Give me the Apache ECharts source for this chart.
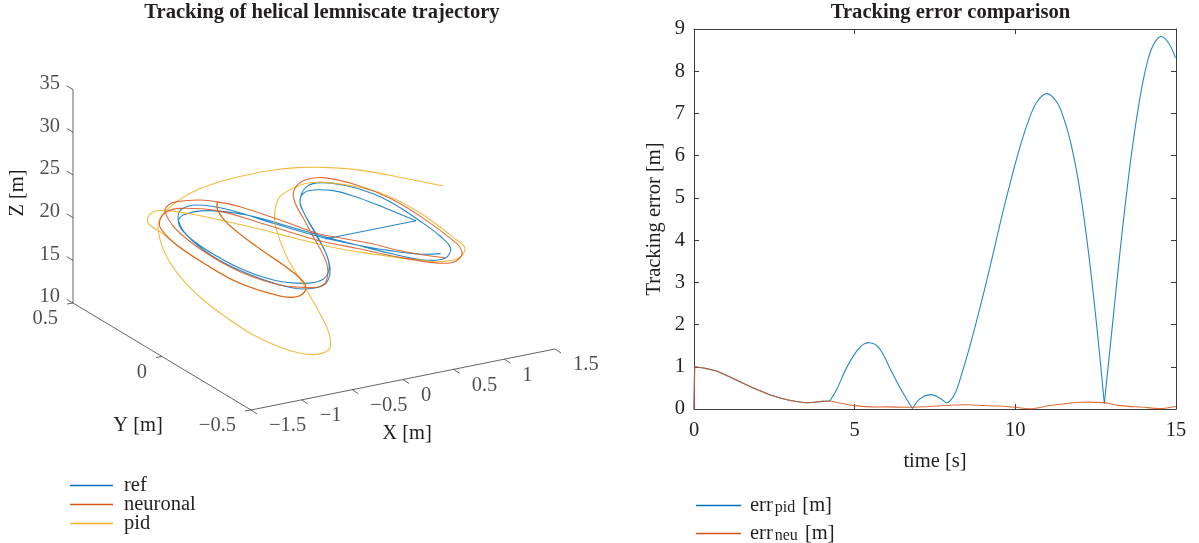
<!DOCTYPE html>
<html><head><meta charset="utf-8">
<style>html,body{margin:0;padding:0;background:#fff}#c{width:1199px;height:543px}</style>
<script src="https://cdn.jsdelivr.net/npm/echarts@6/dist/echarts.min.js"></script>
</head><body><div id="c"></div>
<script>
// ---- data ----
// left panel: trajectories as seen in the drawing plane of the 3D view
const refLead = [[585,237],[858,182]];
const refPath = [[858,182],[780,150],[730,130],[670,108],[610,92],[550,90],[520,100],[510,125],[525,165],[560,225],[590,285],[597,330],[575,360],[520,370],[430,360],[330,325],[230,270],[165,220],[145,185],[160,165],[230,152],[350,165],[480,200],[590,232],[680,255],[780,280],[880,300],[945,295],[962,265],[930,228],[880,190],[780,125],[680,85],[580,68],[530,80],[510,125],[525,165],[555,220],[590,285],[600,340],[580,375],[520,387],[450,375],[350,340],[250,290],[170,225],[145,180],[152,150],[200,135],[300,150],[430,190],[560,228],[680,255],[780,272],[860,282],[932,281]];
const commonStart = [[262,125],[263,150],[292,190],[380,260],[460,315],[520,365],[527,390],[500,410],[450,408],[330,370],[230,315],[140,255]];
const neuronalRest = [[92,205],[90,180],[110,155],[150,145],[260,152],[380,185],[560,240],[680,265],[800,290],[900,307],[965,308],[993,290],[995,272],[980,250],[880,175],[780,115],[680,75],[580,53],[525,60],[495,85],[492,120],[520,175],[550,230],[590,310],[590,360],[570,380],[520,382],[450,375],[330,335],[230,280],[140,210],[105,155],[115,135],[140,125],[210,120],[270,127],[330,140],[450,180],[560,220],[620,232],[720,250],[800,270],[880,285],[945,293]];
const pidRest = [[100,222],[60,195],[52,178],[70,155],[110,152],[200,165],[300,187],[400,210],[500,236],[600,260],[700,278],[800,292],[870,300],[930,305],[985,295],[1005,265],[980,240],[880,165],[780,110],[680,80],[580,67],[530,70],[490,85],[450,110],[435,150],[437,200],[470,290],[530,390],[590,500],[602,545],[595,570],[560,583],[510,580],[450,562],[370,525],[300,480],[220,420],[150,350],[105,280],[85,215],[88,180],[110,150],[150,118],[200,90],[270,65],[350,45],[430,30],[500,23],[580,22],[650,26],[720,35],[800,50],[870,64],[940,78]];
const xTicks3d = [-1.5,-1,-0.5,0,0.5,1,1.5];
const yTicks3d = [0.5,0,-0.5];
const zTicks3d = [10,15,20,25,30,35];
// right panel
const errRise = [[0,0],[0.02,1]];
const errCommon = [[0.02,1],[0.3,0.97],[0.7,0.9],[1,0.8],[1.5,0.62],[2,0.45],[2.5,0.3],[3,0.2],[3.5,0.15],[4,0.18],[4.23,0.19]];
const pidArc1 = [[4.23,0.19],[4.44,0.46],[4.75,0.98],[5.06,1.37],[5.27,1.53],[5.48,1.57],[5.69,1.5],[5.89,1.29],[6.15,0.88],[6.46,0.44],[6.8,0.01]];
const pidArc2 = [[6.8,0.01],[7.03,0.24],[7.35,0.34],[7.6,0.28],[7.86,0.14]];
const pidArc3 = [[7.86,0.14],[7.97,0.19],[8.13,0.38],[8.28,0.7],[8.59,1.5],[8.9,2.4],[9.16,3.2],[9.37,3.88],[9.63,4.72],[9.89,5.5],[10.15,6.22],[10.41,6.83],[10.67,7.27],[10.98,7.47],[11.29,7.27],[11.5,6.9],[11.7,6.38],[11.89,5.7],[12.07,4.88],[12.24,3.93],[12.38,3.05],[12.58,1.62],[12.77,0.13]];
const pidArc4 = [[12.77,0.13],[13.05,2.2],[13.26,3.74],[13.41,4.77],[13.62,6.07],[13.83,7.15],[14.04,8.0],[14.25,8.55],[14.52,8.82],[14.76,8.68],[14.98,8.32]];
const neuTail = [[4.23,0.19],[4.5,0.15],[5,0.08],[5.5,0.05],[6,0.05],[6.8,0.04],[7.3,0.06],[7.97,0.09],[8.5,0.1],[9,0.083],[9.5,0.07],[10,0.04],[10.46,0.005],[11.08,0.083],[11.5,0.12],[12.01,0.16],[12.75,0.15],[13.26,0.08],[14,0.04],[14.5,0.01],[15,0.06]];

// ---- style ----
const BLUE='#0072BD', RED='#D95319', YEL='#EDB120', INK='#231f20', AX='#3c3c3c';
const FONT='"Liberation Serif", serif';

// ---- 3D axis frame expressed in the same drawing-plane units ----
const corner=[363,750], xDir=[304,-61], yDir=[-534,-321], zDir=[0,-25.62];
const proj=(X,Y,Z)=>[corner[0]+(X+1.5)*xDir[0]+(Y+0.5)*yDir[0]+(Z-10)*zDir[0],
                     corner[1]+(X+1.5)*xDir[1]+(Y+0.5)*yDir[1]+(Z-10)*zDir[1]];
const xPts=xTicks3d.map(v=>proj(v,-0.5,10));
const yPts=yTicks3d.map(v=>proj(-1.5,v,10));
const zPts=zTicks3d.map(v=>proj(-1.5,0.5,v));
function seg(list){const o=[];list.forEach(s=>{o.push(s[0],s[1],[null,null]);});return o;}
const axisSegs=[[xPts[0],xPts[6]],[yPts[0],yPts[2]],[zPts[0],zPts[5]]];
const tickSegs=[];
xPts.forEach(p=>tickSegs.push([p,[p[0]+18,p[1]+12]]));
yPts.forEach(p=>tickSegs.push([p,[p[0]-18,p[1]+3]]));
zPts.forEach(p=>tickSegs.push([p,[p[0]-19,p[1]-11]]));

function frame(name,data){return {type:'line',name,xAxisIndex:0,yAxisIndex:0,data:seg(data),showSymbol:false,silent:true,
  connectNulls:false,clip:false,lineStyle:{color:AX,width:0.8}};}
function tickLabels(pts,vals,align,off){return {type:'scatter',xAxisIndex:0,yAxisIndex:0,symbolSize:0,silent:true,
  data:pts.map((p,i)=>({value:p,name:String(vals[i]).replace('-','\u2212')})),
  label:{show:true,position:'inside',align,verticalAlign:'middle',offset:off,formatter:'{b}',
         fontFamily:FONT,fontSize:20.5,color:INK}};}
// a curve through the read points, placed by the chart's own scales (api.coord)
function curve(name,data,color,panel,smooth){
  return {type:'custom',name,coordinateSystem:'cartesian2d',xAxisIndex:panel,yAxisIndex:panel,data,clip:false,silent:true,
    encode:{x:0,y:1},itemStyle:{color},
    renderItem:(p,api)=>p.dataIndex!==0?null:{type:'polyline',silent:true,
      shape:{points:data.map(d=>api.coord(d)),smooth:smooth===false?0:0.35},
      style:{stroke:color,fill:null,lineWidth:1.1,opacity:0.85}}};
}
const axStyle={axisLine:{show:true,onZero:false,lineStyle:{color:AX,width:1}},axisTick:{show:true,inside:true,length:5,lineStyle:{color:AX}},splitLine:{show:false}};
const nameTs={fontFamily:FONT,fontSize:20.5,color:INK};
const lg={orient:'vertical',icon:'rect',itemHeight:1.5,padding:0,selectedMode:false,itemStyle:{borderWidth:0,opacity:1}};
const lgText={fontFamily:FONT,fontSize:20.5,color:INK};
const sub={fontFamily:FONT,fontSize:16,color:INK,verticalAlign:'bottom',padding:[12,2,0,2]};

const chart=echarts.init(document.getElementById('c'),null,{renderer:'canvas'});
chart.setOption({
  animation:false,backgroundColor:'#fff',
  title:[
    {text:'Tracking of helical lemniscate trajectory',left:317,top:-3,textAlign:'center',textStyle:{fontFamily:FONT,fontSize:20.6,fontWeight:'bold',color:INK}},
    {text:'Tracking error comparison',left:945.5,top:-3,textAlign:'center',textStyle:{fontFamily:FONT,fontSize:20.6,fontWeight:'bold',color:INK}}
  ],
  grid:[
    {left:0,top:0,width:620,height:543,containLabel:false},
    {left:694,top:29,width:482,height:380,containLabel:false}
  ],
  xAxis:[
    {gridIndex:0,type:'value',min:-390,max:1470,show:false},
    Object.assign({gridIndex:1,type:'value',min:0,max:15,interval:5,position:'bottom',
     name:'time [s]',nameLocation:'middle',nameGap:42,nameTextStyle:nameTs,
     axisLabel:{show:true,fontFamily:FONT,fontSize:20.5,color:INK,margin:11,showMinLabel:true,showMaxLabel:true}},axStyle),
    Object.assign({gridIndex:1,type:'value',min:0,max:15,interval:5,position:'top',axisLabel:{show:false}},axStyle)
  ],
  yAxis:[
    {gridIndex:0,type:'value',min:-480,max:1149,inverse:true,show:false},
    Object.assign({gridIndex:1,type:'value',min:0,max:9,interval:1,position:'left',
     name:'Tracking error [m]',nameLocation:'middle',nameGap:29,nameRotate:90,nameTextStyle:nameTs,
     axisLabel:{show:true,fontFamily:FONT,fontSize:20.5,color:INK,margin:9,padding:[4,0,0,0],showMinLabel:true,showMaxLabel:true}},axStyle),
    Object.assign({gridIndex:1,type:'value',min:0,max:9,interval:1,position:'right',axisLabel:{show:false}},axStyle)
  ],
  legend:[
    Object.assign({left:70,top:471,itemWidth:43,itemGap:-10,data:['ref','neuronal','pid'],
      textStyle:Object.assign({lineHeight:19,padding:[0,0,10,6]},lgText)},lg),
    Object.assign({left:696,top:495,itemWidth:45,data:['err_pid'],formatter:()=>'err{s|pid} [m]',
      textStyle:Object.assign({lineHeight:20,padding:[0,0,0,4],rich:{s:sub}},lgText)},lg),
    Object.assign({left:696,top:523,itemWidth:45,data:['err_neu'],formatter:()=>'err{s|neu} [m]',
      textStyle:Object.assign({lineHeight:20,padding:[0,0,0,4],rich:{s:sub}},lgText)},lg)
  ],
  graphic:[
    {type:'text',x:18,y:193,rotation:Math.PI/2,style:{text:'Z [m]',font:'20.5px '+FONT,fill:INK,textAlign:'center',textVerticalAlign:'middle'}},
    {type:'text',x:138,y:426,style:{text:'Y [m]',font:'20.5px '+FONT,fill:INK,textAlign:'center',textVerticalAlign:'middle'}},
    {type:'text',x:407,y:434,style:{text:'X [m]',font:'20.5px '+FONT,fill:INK,textAlign:'center',textVerticalAlign:'middle'}}
  ],
  series:[
    frame('axes',axisSegs),frame('ticks',tickSegs),
    tickLabels(xPts,xTicks3d,'left',[18,16]),
    tickLabels(yPts,yTicks3d,'right',[-15,16]),
    tickLabels(zPts,zTicks3d,'right',[-13,-6]),
    curve('ref',refLead,BLUE,0,false),
    curve('ref',refPath,BLUE,0),
    curve('pid',commonStart.concat(pidRest),YEL,0),
    curve('neuronal',commonStart.concat(neuronalRest),RED,0),
    curve('err_pid',errRise,BLUE,1,false),
    curve('err_pid',errCommon,BLUE,1),
    curve('err_pid',pidArc1,BLUE,1),
    curve('err_pid',pidArc2,BLUE,1),
    curve('err_pid',pidArc3,BLUE,1),
    curve('err_pid',pidArc4,BLUE,1),
    curve('err_neu',errRise,RED,1,false),
    curve('err_neu',errCommon,RED,1),
    curve('err_neu',neuTail,RED,1)
  ]
});
</script></body></html>
